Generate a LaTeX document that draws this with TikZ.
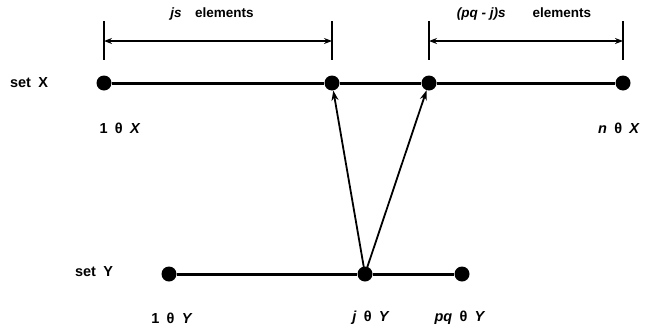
\documentclass[tikz,border=0pt]{standalone}
\usepackage{fontspec}
\setmainfont{Liberation Sans}
\usetikzlibrary{arrows.meta, positioning}

\begin{document}
\begin{tikzpicture}[x=1pt,y=-1pt,
    dot/.style={circle, fill=black, inner sep=0pt, minimum size=15pt},
    setline/.style={line width=3pt},
    dimline/.style={line width=1.7pt},
    lbl/.style={font=\bfseries\fontsize{14.5}{16}\selectfont, inner sep=0pt},
    toplbl/.style={font=\bfseries\fontsize{13.5}{15}\selectfont, inner sep=0pt}]
\useasboundingbox (0,0) rectangle (648,335);
% set X
\node[dot] (x1) at (104,83) {};
\node[dot] (xa) at (332,83) {};
\node[dot] (xb) at (429,83) {};
\node[dot] (xn) at (623,83) {};
\draw[setline] (x1) -- (xa) -- (xb) -- (xn);
\node[lbl] (setx) at (29,83) {set\enspace X};
\node[lbl] (onex) at (120,128) {1\enspace θ\enspace\textit{X}};
\node[lbl, anchor=west] (nx) at (598,128) {\textit{n}\enspace θ\enspace\textit{X}};
% set Y
\node[dot] (y1) at (169,274) {};
\node[dot] (yj) at (365,274) {};
\node[dot] (yp) at (462,274) {};
\draw[setline] (y1) -- (yj) -- (yp);
\node[lbl] (sety) at (94,272) {set\enspace Y};
\node[lbl] (oney) at (172,318) {1\enspace θ\enspace\textit{Y}};
\node[lbl] (jy) at (371,318) {\textit{j}\enspace θ\enspace\textit{Y}};
\node[lbl] (pqy) at (460,318) {\textit{pq}\enspace θ\enspace\textit{Y}};
% mapping
\draw[-{Stealth[length=10pt,width=7pt]}, line width=1.8pt] (yj.center) -- (xa);
\draw[-{Stealth[length=10pt,width=7pt]}, line width=1.8pt] (yj.center) -- (xb);
% dimension marks
\foreach \p in {x1,xa,xb,xn}
  \draw[dimline] (\p |- 0,21) -- (\p |- 0,60);
\draw[dimline, {Stealth[length=8pt,width=6pt]}-{Stealth[length=8pt,width=6pt]}] (x1 |- 0,41) -- (xa |- 0,41);
\draw[dimline, {Stealth[length=8pt,width=6pt]}-{Stealth[length=8pt,width=6pt]}] (xb |- 0,41) -- (xn |- 0,41);
\node[toplbl] (jsel) at (212,14) {\textit{js}\quad elements};
\node[toplbl] (pqel) at (524,14) {\textit{(pq - j)s}\qquad elements};
\end{tikzpicture}
\end{document}
